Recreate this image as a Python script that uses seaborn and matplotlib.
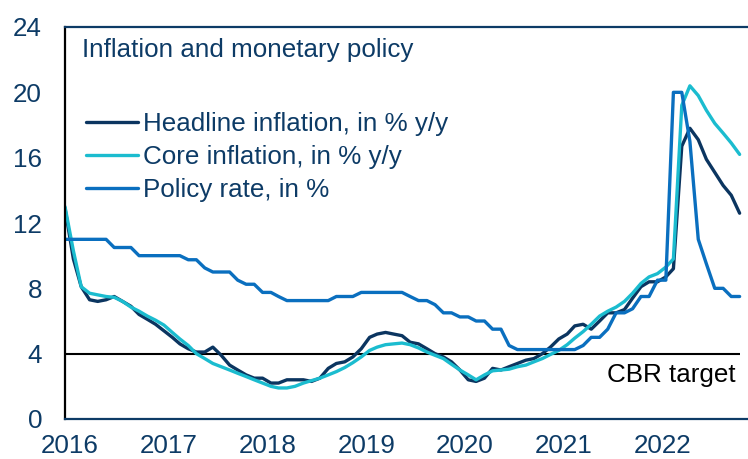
"""Russia: inflation and monetary policy chart."""

import matplotlib.pyplot as plt
import numpy as np
import pandas as pd
import seaborn as sns

# Month-end observations, Dec 2015 .. Oct 2022
months = pd.date_range("2015-12-31", periods=83, freq="ME")

headline = [
    12.9,
    9.8, 8.1, 7.3, 7.2, 7.3, 7.5, 7.2, 6.9, 6.4, 6.1, 5.8, 5.4,
    5.0, 4.6, 4.3, 4.1, 4.1, 4.4, 3.9, 3.3, 3.0, 2.7, 2.5, 2.5,
    2.2, 2.2, 2.4, 2.4, 2.4, 2.3, 2.5, 3.1, 3.4, 3.5, 3.8, 4.3,
    5.0, 5.2, 5.3, 5.2, 5.1, 4.7, 4.6, 4.3, 4.0, 3.8, 3.5, 3.0,
    2.4, 2.3, 2.5, 3.1, 3.0, 3.2, 3.4, 3.6, 3.7, 4.0, 4.4, 4.9,
    5.2, 5.7, 5.8, 5.5, 6.0, 6.5, 6.5, 6.7, 7.4, 8.1, 8.4, 8.4,
    8.7, 9.2, 16.7, 17.8, 17.1, 15.9, 15.1, 14.3, 13.7, 12.6,
]
core = [
    13.0,
    10.3, 8.1, 7.7, 7.6, 7.5, 7.45, 7.2, 6.85, 6.6, 6.3, 6.05, 5.75,
    5.3, 4.9, 4.5, 4.0, 3.7, 3.4, 3.2, 3.0, 2.8, 2.6, 2.4, 2.2,
    2.0, 1.9, 1.9, 2.0, 2.2, 2.35, 2.5, 2.7, 2.9, 3.15, 3.45, 3.8,
    4.2, 4.4, 4.55, 4.6, 4.65, 4.55, 4.35, 4.1, 3.9, 3.7, 3.35, 3.0,
    2.7, 2.4, 2.7, 2.95, 3.0, 3.05, 3.2, 3.3, 3.5, 3.7, 3.95, 4.2,
    4.55, 4.95, 5.35, 5.8, 6.3, 6.6, 6.85, 7.2, 7.7, 8.3, 8.7, 8.9,
    9.3, 9.8, 19.2, 20.4, 19.8, 18.9, 18.1, 17.5, 16.9, 16.2,
]
policy_rate = [
    11.0,
    11.0, 11.0, 11.0, 11.0, 11.0, 10.5, 10.5, 10.5, 10.0, 10.0, 10.0, 10.0,
    10.0, 10.0, 9.75, 9.75, 9.25, 9.0, 9.0, 9.0, 8.5, 8.25, 8.25, 7.75,
    7.75, 7.5, 7.25, 7.25, 7.25, 7.25, 7.25, 7.25, 7.5, 7.5, 7.5, 7.75,
    7.75, 7.75, 7.75, 7.75, 7.75, 7.5, 7.25, 7.25, 7.0, 6.5, 6.5, 6.25,
    6.25, 6.0, 6.0, 5.5, 5.5, 4.5, 4.25, 4.25, 4.25, 4.25, 4.25, 4.25,
    4.25, 4.25, 4.5, 5.0, 5.0, 5.5, 6.5, 6.5, 6.75, 7.5, 7.5, 8.5,
    8.5, 20.0, 20.0, 17.0, 11.0, 9.5, 8.0, 8.0, 7.5, 7.5,
]

series_names = ["Headline inflation, in % y/y", "Core inflation, in % y/y", "Policy rate, in %"]
series_colors = ["#0B3560", "#1BBCCF", "#0A6FBF"]
cbr_target = 4
y_ticks = [0, 4, 8, 12, 16, 20, 24]
year_labels = [2016, 2017, 2018, 2019, 2020, 2021, 2022]

NAVY = "#0D3B66"
FS = 18.7

sns.set_style("white")
plt.rcParams["font.family"] = ["Liberation Sans", "DejaVu Sans"]

df = pd.DataFrame({
    "month": np.tile(months, 3),
    "value": headline + core + policy_rate,
    "series": np.repeat(series_names, len(months)),
})

fig = plt.figure(figsize=(7.48, 4.59), dpi=100)
ax = fig.add_axes([65 / 748, 1 - 419 / 459, 683 / 748, 392 / 459])

sns.lineplot(
    data=df, x="month", y="value", hue="series", hue_order=series_names,
    palette=series_colors, linewidth=2.4, ax=ax,
)
ax.hlines(cbr_target, months[0], months[-1], color="black", lw=1.5, zorder=1.5)
ax.text(0.982, 2.7, "CBR target", transform=ax.get_yaxis_transform(),
        ha="right", va="center", fontsize=FS, color="black")
ax.text(0.025, 0.9245, "Inflation and monetary policy", transform=ax.transAxes,
        ha="left", va="baseline", fontsize=FS, color=NAVY)

# axes
ax.set_xlim(pd.Timestamp("2015-12-31"), pd.Timestamp("2022-12-01"))
ax.set_ylim(0, 24)
ax.set_yticks(y_ticks)
ax.set_xticks([pd.Timestamp(f"{y}-01-19") for y in year_labels])
ax.set_xticklabels([str(y) for y in year_labels])
ax.set_xlabel("")
ax.set_ylabel("")
ax.tick_params(axis="both", length=0, labelsize=FS, labelcolor=NAVY)
ax.tick_params(axis="y", pad=16.5)
ax.tick_params(axis="x", pad=11)

ax.spines["right"].set_visible(False)
ax.spines["left"].set_color("black")
for side in ["top", "bottom"]:
    ax.spines[side].set_color(NAVY)
for side in ["top", "bottom", "left"]:
    ax.spines[side].set_linewidth(1.6)

handles, labels = ax.get_legend_handles_labels()
ax.legend(
    handles, labels, loc="upper left", bbox_to_anchor=(0.0307, 0.782),
    frameon=False, fontsize=FS, handlelength=2.0, handletextpad=0.2,
    labelspacing=0.33, borderpad=0, borderaxespad=0, labelcolor=NAVY,
)

fig.savefig("out.png", dpi=100)
